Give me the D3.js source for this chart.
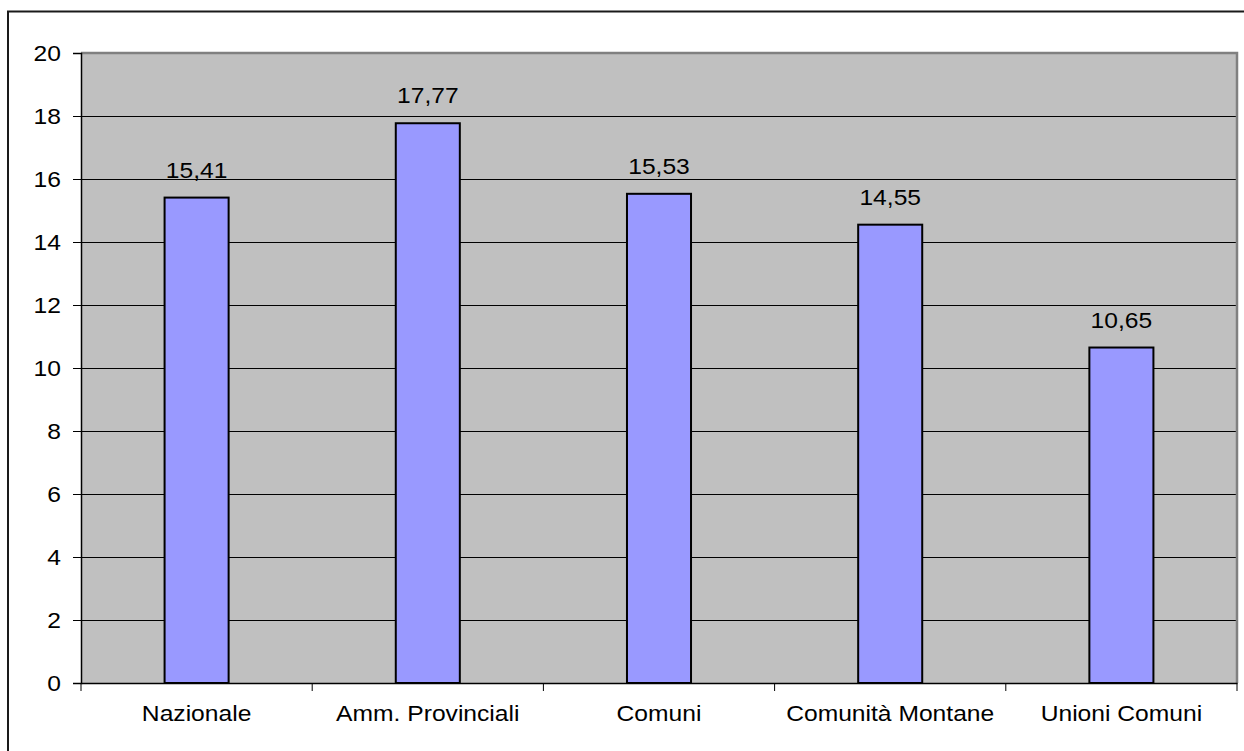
<!DOCTYPE html>
<html>
<head>
<meta charset="utf-8">
<script src="https://cdn.jsdelivr.net/npm/d3@7"></script>
<style>
  html, body { margin: 0; padding: 0; background: #fff; }
  svg { display: block; }
  text { font-family: "Liberation Sans", Arial, sans-serif; fill: #000; }
</style>
</head>
<body>
<svg id="chart" width="1244" height="751"></svg>
<script>
const categories = ["Nazionale", "Amm. Provinciali", "Comuni", "Comunità Montane", "Unioni Comuni"];
const values = [15.41, 17.77, 15.53, 14.55, 10.65];
const yTicks = [0, 2, 4, 6, 8, 10, 12, 14, 16, 18, 20];

const svg = d3.select("#chart");
const W = 1244, H = 751;
const plot = { left: 81, right: 1237, top: 53, bottom: 683 };
const FS = 22, SX = 1.12;

const itFormat = d3.formatLocale({ decimal: ",", thousands: ".", grouping: [3], currency: ["", "€"] }).format(".2f");

// outer chart frame
svg.append("rect").attr("x", 8).attr("y", 11.5).attr("width", W + 20).attr("height", H + 20)
  .attr("fill", "#fff").attr("stroke", "#1a1a1a").attr("stroke-width", 2);

const x = d3.scaleBand().domain(categories).range([plot.left, plot.right]).paddingInner(0.723).paddingOuter(0.3615);
const xOuter = d3.scaleBand().domain(categories).range([plot.left, plot.right]).padding(0);
const y = d3.scaleLinear().domain([0, 20]).range([plot.bottom, plot.top]);

// plot background
svg.append("rect").attr("x", plot.left).attr("y", plot.top)
  .attr("width", plot.right - plot.left).attr("height", plot.bottom - plot.top)
  .attr("fill", "#c0c0c0");

// gridlines
svg.append("g").selectAll("line").data(yTicks.filter(d => d > 0 && d < 20)).join("line")
  .attr("x1", plot.left).attr("x2", plot.right)
  .attr("y1", d => Math.round(y(d)) + 0.5).attr("y2", d => Math.round(y(d)) + 0.5)
  .attr("stroke", "#000").attr("stroke-width", 1);

// gray plot border (top/right)
svg.append("path")
  .attr("d", `M${plot.left},${plot.top} H${plot.right} V${plot.bottom}`)
  .attr("fill", "none").attr("stroke", "#808080").attr("stroke-width", 2.5);

// bars
svg.append("g").selectAll("rect").data(values).join("rect")
  .attr("x", (d, i) => x(categories[i]))
  .attr("width", x.bandwidth())
  .attr("y", d => y(d))
  .attr("height", d => y(0) - y(d))
  .attr("fill", "#9999ff").attr("stroke", "#000").attr("stroke-width", 2);

// y axis
const yAxis = d3.axisLeft(y).tickValues(yTicks).tickSize(8).tickPadding(13).tickFormat(d3.format("d"));
const gy = svg.append("g").attr("transform", `translate(${plot.left},0)`).call(yAxis);
gy.select(".domain").attr("stroke", "#000").attr("stroke-width", 1.5);
gy.selectAll(".tick line").attr("stroke", "#000");
gy.selectAll(".tick text").attr("font-size", FS).attr("font-family", "Liberation Sans, Arial, sans-serif")
  .attr("fill", "#000")
  .attr("transform", `scale(${SX},1)`)
  .attr("x", -20 / SX);

// x axis
const xAxis = d3.axisBottom(xOuter).tickSize(0).tickFormat("");
const gx = svg.append("g").attr("transform", `translate(0,${plot.bottom})`).call(xAxis);
gx.select(".domain").attr("stroke", "#000").attr("stroke-width", 1.5);
const edges = categories.map(c => xOuter(c)).concat([plot.right]);
gx.append("g").selectAll("line").data(edges).join("line")
  .attr("x1", d => d).attr("x2", d => d).attr("y1", 0).attr("y2", 8)
  .attr("stroke", "#000").attr("stroke-width", 1);

// x labels
svg.append("g").selectAll("text").data(categories).join("text")
  .attr("transform", d => `translate(${xOuter(d) + xOuter.bandwidth() / 2},721) scale(${SX},1)`)
  .attr("text-anchor", "middle").attr("font-size", FS)
  .text(d => d);

// value labels
svg.append("g").selectAll("text").data(values).join("text")
  .attr("transform", (d, i) => `translate(${x(categories[i]) + x.bandwidth() / 2},${y(d) - 20}) scale(${SX},1)`)
  .attr("text-anchor", "middle").attr("font-size", FS)
  .text(d => itFormat(d));
</script>
</body>
</html>
